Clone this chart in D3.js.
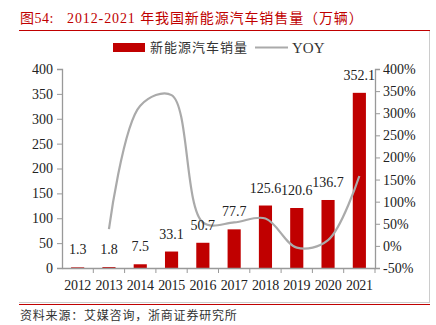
<!DOCTYPE html>
<html><head><meta charset="utf-8">
<script src="https://cdn.jsdelivr.net/npm/d3@7"></script>
<style>body{margin:0;background:#fff}</style>
</head><body>
<svg id="c" width="436" height="325"></svg>
<script>
const years = ["2012","2013","2014","2015","2016","2017","2018","2019","2020","2021"];
const sales = [1.3,1.8,7.5,33.1,50.7,77.7,125.6,120.6,136.7,352.1];
const yoy = [null,38,317,341,53,53,62,-4,13,158];
const leftTicks = [0,50,100,150,200,250,300,350,400];
const rightTicks = [-50,0,50,100,150,200,250,300,350,400];
const titleHead = "图54:";
const titleBody = "2012-2021 年我国新能源汽车销售量（万辆）";
const source = "资料来源：艾媒咨询，浙商证券研究所";

const svg = d3.select("#c");
const serif = "'Liberation Serif','Times New Roman','Noto Sans CJK SC',serif";
const cjk = "'Noto Sans CJK SC',sans-serif";
const red = "#c00000";
const x = d3.scaleBand().domain(years).range([62,375]).paddingInner(0.58).paddingOuter(0.29);
const xb = d3.scaleBand().domain(years).range([62,375]);
const yL = d3.scaleLinear().domain([0,400]).range([268,69]);
const yR = d3.scaleLinear().domain([-50,400]).range([268,69]);

// title & frame
const t = svg.append("text").attr("y",23).attr("fill",red).attr("font-family",serif).attr("font-size",14);
t.append("tspan").attr("x",20).attr("letter-spacing",0.5).text(titleHead);
t.append("tspan").attr("x",67).attr("letter-spacing",0.9).text(titleBody);
svg.append("line").attr("x1",19).attr("x2",430).attr("y1",30.5).attr("y2",30.5).attr("stroke",red).attr("stroke-width",1);
svg.append("line").attr("x1",429.5).attr("x2",429.5).attr("y1",31).attr("y2",302).attr("stroke","#ccc");
svg.append("line").attr("x1",19).attr("x2",430).attr("y1",302.5).attr("y2",302.5).attr("stroke","#ccc");
svg.append("line").attr("x1",19).attr("x2",430).attr("y1",304.5).attr("y2",304.5).attr("stroke",red).attr("stroke-width",1);
svg.append("text").attr("x",20).attr("y",320).attr("fill","#333").attr("font-family",cjk).attr("font-size",12).attr("letter-spacing",0.8).text(source);

// legend
svg.append("rect").attr("x",113).attr("y",43).attr("width",32).attr("height",9).attr("fill",red);
svg.append("text").attr("x",150).attr("y",52).attr("font-family",cjk).attr("font-size",13).attr("letter-spacing",1).attr("fill","#333").text("新能源汽车销量");
svg.append("line").attr("x1",255).attr("x2",288).attr("y1",47.5).attr("y2",47.5).attr("stroke","#aaa").attr("stroke-width",2);
svg.append("text").attr("x",292).attr("y",53).attr("font-family",serif).attr("font-size",15).attr("fill","#333").text("YOY");

// bars
svg.selectAll(".bar").data(sales).join("rect")
  .attr("x",(d,i)=>x(years[i])).attr("width",x.bandwidth())
  .attr("y",d=>yL(d)).attr("height",d=>yL(0)-yL(d)).attr("fill",red);

// line
const line = d3.line().defined(d=>d[1]!==null)
  .x(d=>xb(d[0])+xb.bandwidth()/2).y(d=>yR(d[1])).curve(d3.curveCatmullRom.alpha(0.5));
svg.append("path").datum(years.map((y,i)=>[y,yoy[i]])).attr("d",line)
  .attr("fill","none").attr("stroke","#aaa").attr("stroke-width",2.2);

// labels
svg.selectAll(".lab").data(sales).join("text")
  .attr("x",(d,i)=>xb(years[i])+xb.bandwidth()/2).attr("y",d=>yL(d)-13)
  .attr("text-anchor","middle").attr("font-family",serif).attr("font-size",14).attr("fill","#222")
  .text(d=>d.toFixed(1));

// axes
function style(g){
  g.select(".domain").attr("stroke","#999").attr("stroke-width",1.3);
  g.selectAll(".tick line").attr("stroke","#999");
  g.selectAll("text").attr("font-family",serif).attr("font-size",14).attr("fill","#222");
}
svg.append("g").attr("transform","translate(62,0)")
  .call(d3.axisLeft(yL).tickValues(leftTicks).tickSize(5).tickSizeOuter(5).tickPadding(4)).call(style);
svg.append("g").attr("transform","translate(375,0)")
  .call(d3.axisRight(yR).tickValues(rightTicks).tickFormat(d=>d+"%").tickSize(5).tickSizeOuter(5).tickPadding(3)).call(style);
const gx = svg.append("g").attr("transform","translate(0,268)")
  .call(d3.axisBottom(xb).tickSize(0).tickPadding(12)).call(style);
gx.selectAll(".tick text").attr("letter-spacing",-0.3);
// boundary ticks
svg.selectAll(".bt").data(d3.range(1,11)).join("line")
  .attr("x1",i=>62+i*xb.step()).attr("x2",i=>62+i*xb.step())
  .attr("y1",268).attr("y2",273).attr("stroke","#999");
</script>
</body></html>
